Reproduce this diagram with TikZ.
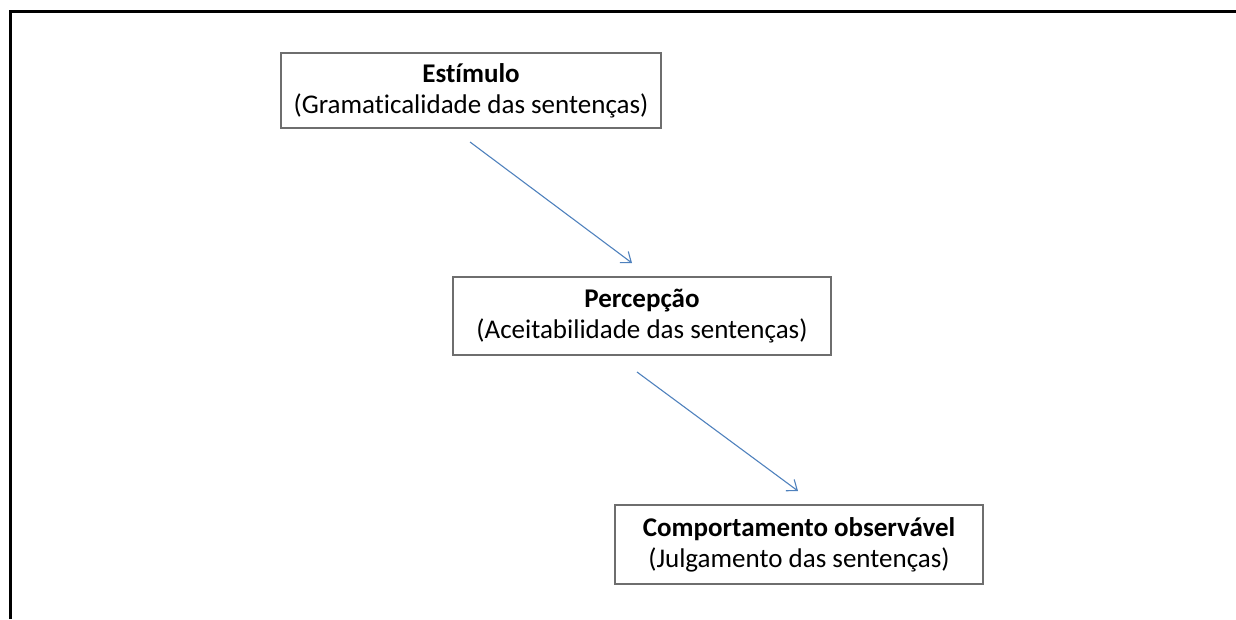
\documentclass[tikz,border=0pt]{standalone}
\usepackage{fontspec}
\setmainfont[Ligatures={NoCommon}]{Carlito}
\usetikzlibrary{arrows.meta}
\definecolor{arrowblue}{RGB}{79,129,189}
\definecolor{boxgray}{RGB}{110,110,110}
\tikzset{
  stagebox/.style={draw=boxgray, line width=1.6pt, fill=white, align=center, inner sep=0pt,
    font=\fontsize{27}{31}\selectfont, text=black},
  flowarrow/.style={draw=arrowblue, line width=1.1pt, -{Straight Barb[length=9pt,width=14pt,line width=1.1pt]}},
  frameline/.style={line width=3pt, black}
}
\begin{document}
\begin{tikzpicture}[x=1pt,y=-1pt]
\useasboundingbox (0,0) rectangle (1236,619);
\draw[frameline] (10,619) -- (10,11) -- (1236,11);
\node[stagebox, minimum width=380pt, minimum height=75pt] (b1) at (471,90.5) {\textbf{Estímulo}\\(Gramaticalidade das sentenças)};
\node[stagebox, minimum width=378pt, minimum height=78pt] (b2) at (642,316) {\textbf{Percepção}\\(Aceitabilidade das sentenças)};
\node[stagebox, minimum width=368pt, minimum height=79pt] (b3) at (799,544.5) {\textbf{Comportamento observável}\\(Julgamento das sentenças)};
\coordinate (a1s) at (470,142);
\coordinate (a1e) at (632,263);
\coordinate (a2s) at (637,372);
\coordinate (a2e) at (798,491);
\draw[flowarrow] (a1s) -- (a1e);
\draw[flowarrow] (a2s) -- (a2e);
\end{tikzpicture}
\end{document}
